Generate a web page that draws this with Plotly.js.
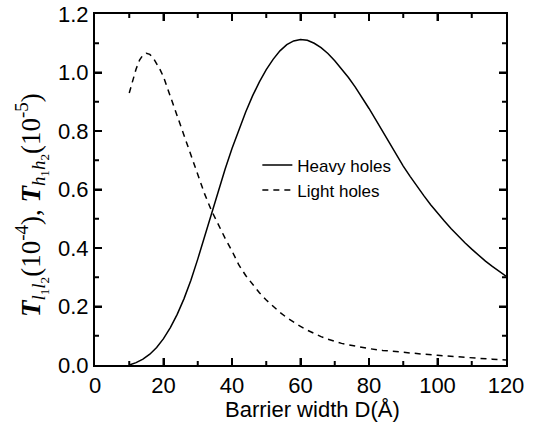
<!DOCTYPE html>
<html>
<head>
<meta charset="utf-8">
<script src="https://cdn.plot.ly/plotly-3.0.1.min.js"></script>
<style>
  html, body { margin: 0; padding: 0; background: #fff; }
  #chart { width: 540px; height: 432px; }
</style>
</head>
<body>
<div id="chart"></div>
<script>
// Barrier width D (Å) and transmission for heavy holes (×10^-5)
const heavyD = [10, 12, 14, 16, 18, 20, 22, 24, 26, 28, 30, 32, 34, 36, 38, 40, 42, 44, 46, 48, 50,
  52, 54, 56, 58, 60, 62, 64, 66, 68, 70, 72, 74, 76, 78, 80, 82, 84, 86, 88, 90, 92, 94, 96, 98,
  100, 102, 104, 106, 108, 110, 112, 114, 116, 118, 120];
const heavyT = [0.0, 0.008, 0.02, 0.037, 0.06, 0.09, 0.128, 0.173, 0.227, 0.29, 0.362, 0.44, 0.52,
  0.597, 0.67, 0.74, 0.805, 0.865, 0.92, 0.968, 1.01, 1.045, 1.074, 1.095, 1.108, 1.113, 1.11, 1.1,
  1.085, 1.065, 1.04, 1.013, 0.983, 0.95, 0.915, 0.877, 0.838, 0.798, 0.758, 0.718, 0.68, 0.645,
  0.611, 0.579, 0.548, 0.519, 0.492, 0.466, 0.441, 0.418, 0.396, 0.375, 0.355, 0.337, 0.32, 0.304];

// Barrier width D (Å) and transmission for light holes (×10^-4)
const lightD = [10, 11, 12, 13, 14, 15, 16, 17, 18, 19, 20, 22, 24, 26, 28, 30, 32, 34, 36, 38, 40,
  42, 44, 46, 48, 50, 52, 54, 56, 58, 60, 62, 64, 66, 68, 70, 72, 74, 76, 78, 80, 84, 88, 92, 96,
  100, 104, 108, 112, 116, 120];
const lightT = [0.93, 0.975, 1.012, 1.042, 1.06, 1.066, 1.062, 1.05, 1.032, 1.01, 0.985, 0.918, 0.848,
  0.779, 0.713, 0.648, 0.585, 0.528, 0.478, 0.433, 0.39, 0.342, 0.306, 0.275, 0.247, 0.222, 0.2,
  0.18, 0.162, 0.146, 0.132, 0.119, 0.107, 0.097, 0.088, 0.08, 0.074, 0.069, 0.064, 0.06, 0.056,
  0.05, 0.045, 0.041, 0.037, 0.033, 0.029, 0.026, 0.023, 0.02, 0.017];

// Tick positions on the frame (major ticks are labelled by the axes themselves)
const xMajorTicks = [20, 40, 60, 80, 100];
const xMinorTicks = [10, 30, 50, 70, 90, 110];
const yMajorTicks = [0.2, 0.4, 0.6, 0.8, 1.0];
const yMinorTicks = [0.1, 0.3, 0.5, 0.7, 0.9, 1.1];

const seriesNames = ['Heavy holes', 'Light holes'];
const xTitle = 'Barrier width D(Å)';
const yTitle = '<i><b>T</b></i><sub><i>l</i><sub>1</sub><i>l</i><sub>2</sub></sub>(10<sup>-4</sup>), ' +
               '<i><b>T</b></i><sub><i>h</i><sub>1</sub><i>h</i><sub>2</sub></sub>(10<sup>-5</sup>)';

const sans = 'Liberation Sans, Arial, Helvetica, sans-serif';
const clear = 'rgba(0,0,0,0)';

const traces = [
  {
    x: heavyD, y: heavyT, name: seriesNames[0], type: 'scatter', mode: 'lines',
    line: { color: '#000', width: 1.5 }
  },
  {
    x: lightD, y: lightT, name: seriesNames[1], type: 'scatter', mode: 'lines',
    line: { color: '#000', width: 1.5, dash: '6px,5px' }
  }
];

// Inward tick marks on all four sides of the frame, placed through the axes
const tickLine = { color: '#000', width: 2 };
const shapes = [];
function xTicks(values, len) {
  values.forEach(function (v) {
    shapes.push({ type: 'line', xref: 'x', yref: 'paper', ysizemode: 'pixel', yanchor: 0,
      x0: v, x1: v, y0: 0, y1: len, line: tickLine });
    shapes.push({ type: 'line', xref: 'x', yref: 'paper', ysizemode: 'pixel', yanchor: 1,
      x0: v, x1: v, y0: 0, y1: -len, line: tickLine });
  });
}
function yTicks(values, len) {
  values.forEach(function (v) {
    shapes.push({ type: 'line', xref: 'paper', yref: 'y', xsizemode: 'pixel', xanchor: 0,
      x0: 0, x1: len, y0: v, y1: v, line: tickLine });
    shapes.push({ type: 'line', xref: 'paper', yref: 'y', xsizemode: 'pixel', xanchor: 1,
      x0: 0, x1: -len, y0: v, y1: v, line: tickLine });
  });
}
xTicks(xMajorTicks, 7);
xTicks(xMinorTicks, 4);
yTicks(yMajorTicks, 7);
yTicks(yMinorTicks, 4);

const layout = {
  width: 540, height: 432,
  margin: { l: 95, r: 34, t: 14, b: 67 },
  showlegend: true,
  legend: {
    x: 0.395, y: 0.62, xanchor: 'left', yanchor: 'top',
    bgcolor: clear, borderwidth: 0,
    font: { family: sans, size: 17, color: '#000' },
    tracegroupgap: 0
  },
  xaxis: {
    range: [0, 120], dtick: 20,
    gridcolor: clear, zerolinecolor: '#000', zerolinewidth: 1,
    showline: true, linecolor: '#000', linewidth: 2,
    mirror: 'ticks', ticks: 'inside', ticklen: 7, tickwidth: 2, tickcolor: '#000',
    tickfont: { family: sans, size: 22, color: '#000' }
  },
  yaxis: {
    range: [0, 1.2], dtick: 0.2, tickformat: '.1f',
    gridcolor: clear, zerolinecolor: '#000', zerolinewidth: 1,
    showline: true, linecolor: '#000', linewidth: 2,
    mirror: 'ticks', ticks: 'inside', ticklen: 7, tickwidth: 2, tickcolor: '#000',
    tickfont: { family: sans, size: 22, color: '#000' }
  },
  shapes: shapes,
  annotations: [
    {
      text: xTitle, xref: 'paper', yref: 'paper', x: 0.528, y: -0.128,
      xanchor: 'center', yanchor: 'middle', showarrow: false,
      font: { family: sans, size: 22, color: '#000' }
    },
    {
      text: yTitle, xref: 'paper', yref: 'paper', x: -0.153, y: 0.456,
      xanchor: 'center', yanchor: 'middle', showarrow: false, textangle: -90,
      font: { family: 'Liberation Serif, Times New Roman, serif', size: 27, color: '#000' }
    }
  ]
};

Plotly.newPlot('chart', traces, layout, { displayModeBar: false });
</script>
</body>
</html>
